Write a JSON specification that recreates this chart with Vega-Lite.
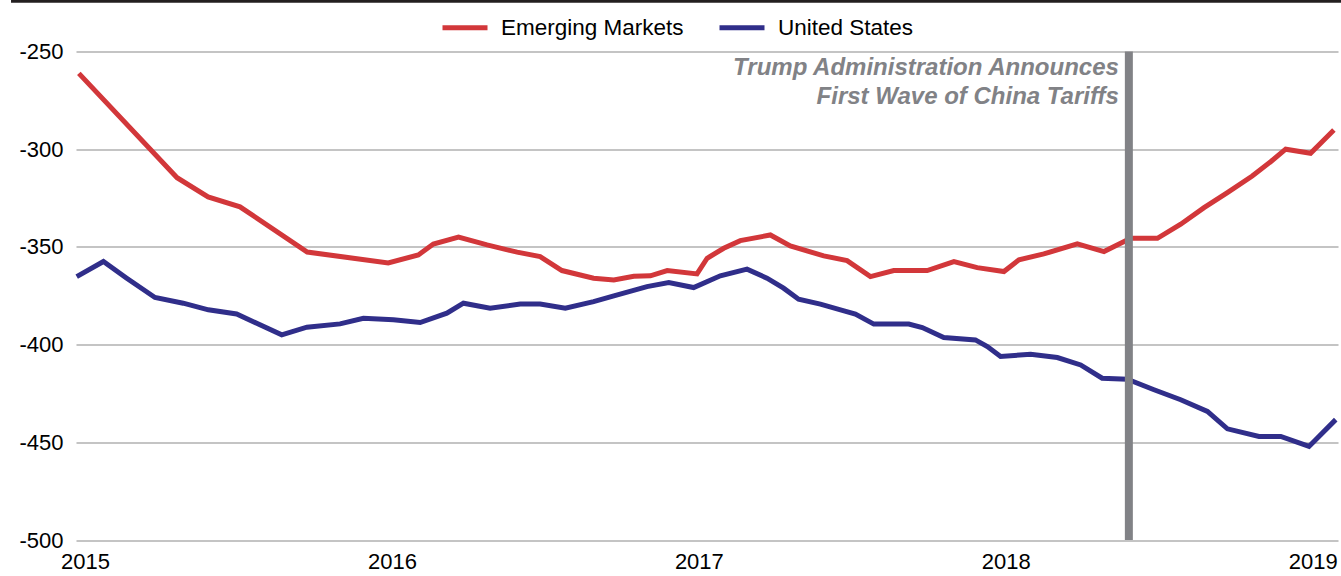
{
  "$schema": "https://vega.github.io/schema/vega-lite/v6.json",
  "width": 1262,
  "height": 488.5,
  "autosize": {"type": "none"},
  "padding": {"left": 76, "top": 51.5, "right": 3, "bottom": 36},
  "background": "white",
  "config": {
    "view": {"stroke": null},
    "font": "Liberation Sans",
    "axis": {"labelFont": "Liberation Sans", "labelFontSize": 22, "labelColor": "#000000"}
  },
  "datasets": {
    "series": [
      {"series": "Emerging Markets", "year": 2014.980, "value": -261.2},
      {"series": "Emerging Markets", "year": 2015.300, "value": -314.6},
      {"series": "Emerging Markets", "year": 2015.401, "value": -324.4},
      {"series": "Emerging Markets", "year": 2015.505, "value": -329.5},
      {"series": "Emerging Markets", "year": 2015.724, "value": -352.6},
      {"series": "Emerging Markets", "year": 2015.988, "value": -358.2},
      {"series": "Emerging Markets", "year": 2016.086, "value": -354.1},
      {"series": "Emerging Markets", "year": 2016.135, "value": -348.5},
      {"series": "Emerging Markets", "year": 2016.217, "value": -345.0},
      {"series": "Emerging Markets", "year": 2016.310, "value": -349.0},
      {"series": "Emerging Markets", "year": 2016.408, "value": -352.7},
      {"series": "Emerging Markets", "year": 2016.483, "value": -355.0},
      {"series": "Emerging Markets", "year": 2016.554, "value": -362.1},
      {"series": "Emerging Markets", "year": 2016.657, "value": -366.0},
      {"series": "Emerging Markets", "year": 2016.723, "value": -366.9},
      {"series": "Emerging Markets", "year": 2016.788, "value": -365.0},
      {"series": "Emerging Markets", "year": 2016.842, "value": -364.8},
      {"series": "Emerging Markets", "year": 2016.897, "value": -362.1},
      {"series": "Emerging Markets", "year": 2016.994, "value": -363.8},
      {"series": "Emerging Markets", "year": 2017.027, "value": -355.8},
      {"series": "Emerging Markets", "year": 2017.081, "value": -350.7},
      {"series": "Emerging Markets", "year": 2017.135, "value": -346.8},
      {"series": "Emerging Markets", "year": 2017.233, "value": -343.9},
      {"series": "Emerging Markets", "year": 2017.298, "value": -349.5},
      {"series": "Emerging Markets", "year": 2017.407, "value": -354.6},
      {"series": "Emerging Markets", "year": 2017.483, "value": -357.0},
      {"series": "Emerging Markets", "year": 2017.559, "value": -365.2},
      {"series": "Emerging Markets", "year": 2017.635, "value": -362.1},
      {"series": "Emerging Markets", "year": 2017.744, "value": -362.1},
      {"series": "Emerging Markets", "year": 2017.831, "value": -357.5},
      {"series": "Emerging Markets", "year": 2017.907, "value": -360.6},
      {"series": "Emerging Markets", "year": 2017.994, "value": -362.6},
      {"series": "Emerging Markets", "year": 2018.043, "value": -356.6},
      {"series": "Emerging Markets", "year": 2018.124, "value": -353.6},
      {"series": "Emerging Markets", "year": 2018.233, "value": -348.5},
      {"series": "Emerging Markets", "year": 2018.320, "value": -352.4},
      {"series": "Emerging Markets", "year": 2018.407, "value": -345.6},
      {"series": "Emerging Markets", "year": 2018.494, "value": -345.6},
      {"series": "Emerging Markets", "year": 2018.570, "value": -338.4},
      {"series": "Emerging Markets", "year": 2018.646, "value": -329.9},
      {"series": "Emerging Markets", "year": 2018.722, "value": -322.2},
      {"series": "Emerging Markets", "year": 2018.803, "value": -313.7},
      {"series": "Emerging Markets", "year": 2018.863, "value": -306.4},
      {"series": "Emerging Markets", "year": 2018.912, "value": -300.0},
      {"series": "Emerging Markets", "year": 2018.993, "value": -302.1},
      {"series": "Emerging Markets", "year": 2019.069, "value": -290.2},
      {"series": "United States", "year": 2014.973, "value": -365.2},
      {"series": "United States", "year": 2015.060, "value": -357.5},
      {"series": "United States", "year": 2015.136, "value": -366.0},
      {"series": "United States", "year": 2015.228, "value": -375.9},
      {"series": "United States", "year": 2015.320, "value": -378.8},
      {"series": "United States", "year": 2015.402, "value": -382.2},
      {"series": "United States", "year": 2015.494, "value": -384.3},
      {"series": "United States", "year": 2015.641, "value": -395.0},
      {"series": "United States", "year": 2015.723, "value": -391.1},
      {"series": "United States", "year": 2015.831, "value": -389.4},
      {"series": "United States", "year": 2015.907, "value": -386.5},
      {"series": "United States", "year": 2016.005, "value": -387.3},
      {"series": "United States", "year": 2016.092, "value": -388.7},
      {"series": "United States", "year": 2016.179, "value": -383.9},
      {"series": "United States", "year": 2016.233, "value": -378.8},
      {"series": "United States", "year": 2016.320, "value": -381.4},
      {"series": "United States", "year": 2016.418, "value": -379.2},
      {"series": "United States", "year": 2016.483, "value": -379.2},
      {"series": "United States", "year": 2016.565, "value": -381.4},
      {"series": "United States", "year": 2016.657, "value": -378.0},
      {"series": "United States", "year": 2016.723, "value": -375.1},
      {"series": "United States", "year": 2016.831, "value": -370.3},
      {"series": "United States", "year": 2016.902, "value": -368.3},
      {"series": "United States", "year": 2016.983, "value": -370.8},
      {"series": "United States", "year": 2017.070, "value": -364.8},
      {"series": "United States", "year": 2017.157, "value": -361.4},
      {"series": "United States", "year": 2017.222, "value": -366.0},
      {"series": "United States", "year": 2017.276, "value": -371.1},
      {"series": "United States", "year": 2017.325, "value": -376.8},
      {"series": "United States", "year": 2017.396, "value": -379.3},
      {"series": "United States", "year": 2017.473, "value": -382.7},
      {"series": "United States", "year": 2017.510, "value": -384.4},
      {"series": "United States", "year": 2017.570, "value": -389.5},
      {"series": "United States", "year": 2017.684, "value": -389.5},
      {"series": "United States", "year": 2017.728, "value": -391.3},
      {"series": "United States", "year": 2017.798, "value": -396.4},
      {"series": "United States", "year": 2017.901, "value": -397.6},
      {"series": "United States", "year": 2017.940, "value": -401.0},
      {"series": "United States", "year": 2017.983, "value": -406.1},
      {"series": "United States", "year": 2018.081, "value": -404.9},
      {"series": "United States", "year": 2018.168, "value": -406.6},
      {"series": "United States", "year": 2018.244, "value": -410.4},
      {"series": "United States", "year": 2018.314, "value": -417.2},
      {"series": "United States", "year": 2018.396, "value": -417.7},
      {"series": "United States", "year": 2018.483, "value": -423.1},
      {"series": "United States", "year": 2018.570, "value": -428.2},
      {"series": "United States", "year": 2018.657, "value": -434.2},
      {"series": "United States", "year": 2018.722, "value": -443.1},
      {"series": "United States", "year": 2018.825, "value": -447.0},
      {"series": "United States", "year": 2018.896, "value": -447.0},
      {"series": "United States", "year": 2018.988, "value": -452.1},
      {"series": "United States", "year": 2019.075, "value": -438.4}
    ],
    "events": [
      {"year": 2018.401, "label": ["Trump Administration Announces", "First Wave of China Tariffs"]}
    ]
  },
  "layer": [
    {
      "data": {"name": "series"},
      "mark": {"type": "line", "strokeWidth": 5, "strokeJoin": "miter", "strokeCap": "butt"},
      "encoding": {
        "x": {
          "field": "year", "type": "quantitative",
          "scale": {"domain": [2014.9707, 2019.0824], "nice": false, "zero": false},
          "axis": {"title": null, "values": [2015, 2016, 2017, 2018, 2019], "format": "d", "grid": false, "ticks": false, "domain": false, "labelPadding": 11, "labelFlush": false}
        },
        "y": {
          "field": "value", "type": "quantitative",
          "scale": {"domain": [-500, -250], "nice": false, "zero": false},
          "axis": {"title": null, "values": [-500, -450, -400, -350, -300, -250], "labelExpr": "'' + datum.value", "grid": true, "gridColor": "#c4c4c4", "gridWidth": 2, "ticks": false, "domain": false, "labelPadding": 13}
        },
        "color": {
          "field": "series", "type": "nominal",
          "scale": {"domain": ["Emerging Markets", "United States"], "range": ["#d2373a", "#302e8a"]},
          "legend": {
            "title": null, "orient": "none", "direction": "horizontal",
            "legendX": 364, "legendY": -49,
            "symbolType": "stroke", "symbolSize": 2025, "symbolStrokeWidth": 5,
            "labelFont": "Liberation Sans", "labelFontSize": 22.5, "labelColor": "#000000", "labelLimit": 0,
            "labelOffset": 11, "columnPadding": 25
          }
        }
      }
    },
    {
      "data": {"name": "events"},
      "mark": {"type": "rule", "color": "#818286", "strokeWidth": 8},
      "encoding": {
        "x": {"field": "year", "type": "quantitative"},
        "y": {"datum": -250},
        "y2": {"datum": -500}
      }
    },
    {
      "data": {"name": "events"},
      "mark": {"type": "text", "align": "right", "baseline": "middle", "dx": -10, "fontSize": 24, "fontWeight": "bold", "fontStyle": "italic", "color": "#818286", "font": "Liberation Sans", "lineHeight": 29},
      "encoding": {
        "x": {"field": "year", "type": "quantitative"},
        "y": {"datum": -258.4},
        "text": {"field": "label"}
      }
    },
    {
      "data": {"values": [{}]},
      "mark": {"type": "rule", "color": "#231f20", "strokeWidth": 3, "clip": false},
      "encoding": {
        "x": {"datum": 2014.759},
        "x2": {"datum": 2019.3},
        "y": {"datum": -224.3}
      }
    }
  ]
}
